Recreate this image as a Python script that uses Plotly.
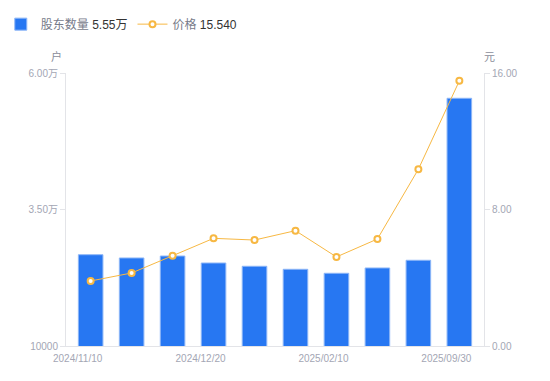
import plotly.graph_objects as go

dates = ["2024/11/10", "2024/11/20", "2024/11/30", "2024/12/20", "2024/12/31",
         "2025/01/10", "2025/02/10", "2025/03/31", "2025/06/30", "2025/09/30"]
holders = [26720, 26120, 26480, 25200, 24600, 24050, 23320, 24290, 25700, 55370]
prices = [3.81, 4.28, 5.29, 6.31, 6.21, 6.76, 5.22, 6.27, 10.36, 15.54]

left_ticks = [10000, 35000, 60000]
left_text = ["10000", "3.50万", "6.00万"]
right_ticks = [0, 8, 16]
right_text = ["0.00", "8.00", "16.00"]
x_ticks = ["2024/11/10", "2024/12/20", "2025/02/10", "2025/09/30"]

FONT = "Liberation Sans, Noto Sans CJK SC, sans-serif"
TICKC = "#a3a6b4"
AXC = "#e3e4e8"

fig = go.Figure()
fig.add_trace(go.Bar(
    x=dates, y=holders, name="股东数量 <span style='color:#333333'>5.55万</span>",
    marker=dict(color="#2777f2", line=dict(color="#8db6f7", width=1)),
    yaxis="y", hoverinfo="skip"))
fig.add_trace(go.Scatter(
    x=dates, y=prices, name="价格 <span style='color:#333333'>15.540</span>",
    mode="lines+markers", yaxis="y2",
    line=dict(color="#f7b843", width=1),
    marker=dict(symbol="circle", size=6, color="white", line=dict(color="#f7b843", width=2)),
    hoverinfo="skip"))

fig.update_layout(
    width=550, height=381,
    margin=dict(l=58, r=74, t=65, b=43, autoexpand=False),
    paper_bgcolor="white", plot_bgcolor="white",
    font=dict(family=FONT, size=10, color=TICKC),
    bargap=0.4,
    showlegend=True,
    legend=dict(orientation="h", x=-0.156, y=1.179, xanchor="left", yanchor="middle",
                font=dict(size=12, color="#777b8a", family=FONT),
                itemwidth=30, tracegroupgap=0, bgcolor="rgba(0,0,0,0)"),
    xaxis=dict(type="category", tickmode="array", tickvals=x_ticks, ticktext=x_ticks,
               showgrid=False, showline=True, linecolor=AXC, linewidth=1,
               ticks="", tickfont=dict(size=10, color=TICKC), ticklabelshift=-13,
               ticklabelstandoff=3, fixedrange=True),
    yaxis=dict(range=[10000, 60000], tickmode="array", tickvals=left_ticks, ticktext=left_text,
               showgrid=False, zeroline=False, showline=True, linecolor=AXC, linewidth=1,
               ticks="outside", ticklen=5, tickcolor=AXC, tickfont=dict(size=10, color=TICKC)),
    yaxis2=dict(range=[0, 16], tickmode="array", tickvals=right_ticks, ticktext=right_text,
                overlaying="y", side="right",
                showgrid=False, zeroline=False, showline=True, linecolor=AXC, linewidth=1,
                ticks="outside", ticklen=5, tickcolor=AXC, tickfont=dict(size=10, color=TICKC)),
    annotations=[
        dict(text="户", xref="paper", yref="paper", x=-0.005, y=1.03, showarrow=False,
             xanchor="right", yanchor="bottom", font=dict(size=11, color="#8a8d9a")),
        dict(text="元", xref="paper", yref="paper", x=0.995, y=1.03, showarrow=False,
             xanchor="left", yanchor="bottom", font=dict(size=11, color="#8a8d9a")),
    ],
)

fig.write_html("out.html")
